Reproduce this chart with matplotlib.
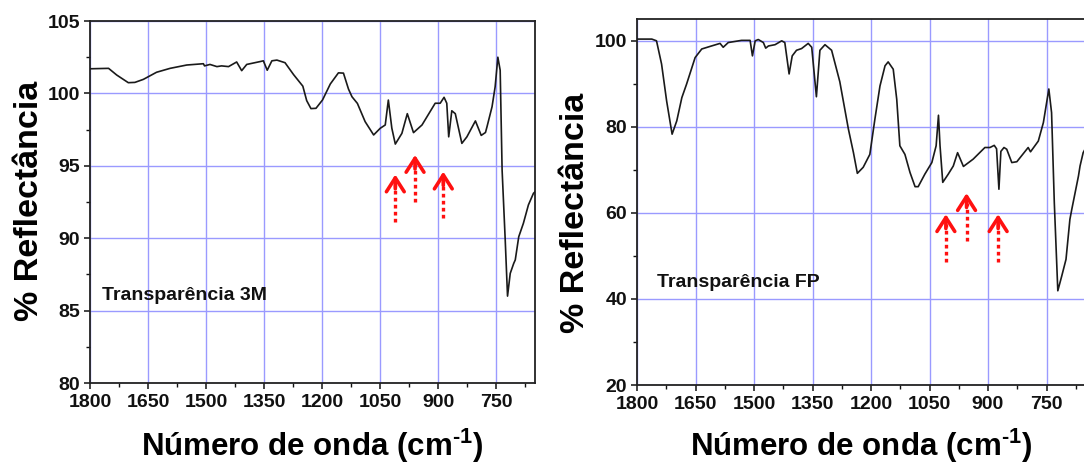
import matplotlib
matplotlib.use("Agg")
import matplotlib.pyplot as plt
from matplotlib.ticker import MultipleLocator

plt.rcParams["font.family"] = ["Liberation Sans", "DejaVu Sans"]
plt.rcParams["font.weight"] = "bold"
plt.rcParams["mathtext.fontset"] = "custom"
plt.rcParams["mathtext.rm"] = "Liberation Sans:bold"
plt.rcParams["mathtext.bf"] = "Liberation Sans:bold"
plt.rcParams["mathtext.it"] = "Liberation Sans:bold"

# Reflectance spectrum, 3M transparency sheet (wavenumber in cm^-1, % reflectance)
wn_3m = [1800, 1752, 1731, 1718, 1701, 1684, 1662, 1628, 1593, 1550, 1507, 1504,
         1490, 1472, 1460, 1442, 1421, 1408, 1395, 1360, 1352, 1342, 1330, 1317,
         1296, 1274, 1250, 1240, 1229, 1216, 1199, 1179, 1158, 1145, 1132, 1123,
         1109, 1089, 1067, 1050, 1037, 1029, 1020, 1011, 994, 980, 964, 942, 908,
         895, 885, 878, 873, 865, 856, 839, 826, 804, 789, 778, 774, 761, 753, 746,
         740, 735, 727, 721, 714, 705, 701, 692, 680, 667, 654, 650]
refl_3m = [101.7, 101.73, 101.27, 101.04, 100.74, 100.76, 100.97, 101.46, 101.73,
           101.96, 102.05, 101.9, 102.0, 101.85, 101.9, 101.85, 102.17, 101.57,
           102.0, 102.2, 102.25, 101.6, 102.25, 102.3, 102.12, 101.3, 100.5, 99.5,
           98.95, 98.97, 99.55, 100.65, 101.42, 101.4, 100.3, 99.77, 99.31, 98.05,
           97.13, 97.59, 97.82, 99.54, 97.6, 96.5, 97.24, 98.6, 97.29, 97.82, 99.32,
           99.32, 99.73, 99.32, 97.0, 98.8, 98.6, 96.55, 97.0, 98.1, 97.1, 97.3,
           97.7, 99.08, 100.46, 102.5, 101.6, 94.7, 89.9, 86.0, 87.57, 88.26, 88.5,
           90.1, 91.03, 92.3, 93.1, 93.2]

# Reflectance spectrum, FP transparency sheet
wn_fp = [1800, 1762, 1750, 1737, 1724, 1710, 1698, 1685, 1673, 1651, 1634, 1609,
         1587, 1579, 1566, 1532, 1510, 1504, 1497, 1489, 1476, 1470, 1463, 1446,
         1429, 1421, 1410, 1402, 1391, 1378, 1361, 1352, 1340, 1331, 1318, 1301,
         1280, 1258, 1245, 1235, 1220, 1203, 1190, 1177, 1164, 1156, 1143, 1134,
         1126, 1113, 1100, 1087, 1079, 1062, 1044, 1033, 1027, 1023, 1016, 1002,
         989, 978, 963, 938, 908, 895, 884, 878, 872, 867, 859, 852, 839, 826, 797,
         791, 771, 758, 744, 737, 730, 721, 711, 700, 690, 685, 668, 664, 656, 650]
refl_fp = [100.4, 100.4, 100.0, 94.6, 86.0, 78.3, 81.4, 86.8, 89.9, 96.1, 98.1, 98.8,
           99.4, 98.5, 99.6, 100.1, 100.1, 96.5, 100.0, 100.3, 99.6, 98.3, 98.8, 99.1,
           100.0, 99.6, 92.3, 96.5, 97.8, 98.2, 99.4, 98.5, 87.0, 97.8, 99.1, 97.8,
           90.5, 79.5, 74.0, 69.2, 70.6, 73.6, 81.8, 89.5, 94.2, 95.1, 93.4, 86.4,
           75.6, 73.6, 69.4, 66.1, 66.1, 69.0, 71.7, 75.6, 82.7, 75.6, 67.1, 69.0,
           70.9, 74.0, 70.8, 72.5, 75.2, 75.2, 75.7, 74.9, 65.5, 74.3, 75.2, 74.8,
           71.7, 71.9, 75.2, 74.2, 76.7, 81.0, 88.8, 83.3, 62.4, 41.9, 45.3, 49.2,
           58.5, 60.9, 68.6, 70.9, 74.0, 75.0]

# Marked bands: (wavenumber, tail value, tip value)
marks_3m = [(1011, 91.1, 94.4), (960, 92.5, 95.75), (887, 91.4, 94.6)]
marks_fp = [(1008, 48.6, 59.7), (955, 53.5, 64.6), (874, 48.6, 59.7)]

labels = ["Transparência 3M", "Transparência FP"]

xlabel = r"Número de onda (cm$^{\text{-1}}$)"
ylabel = "% Reflectância"

W, H = 1084, 463
fig = plt.figure(figsize=(W / 100, H / 100), dpi=100)
ax1 = fig.add_axes([90 / W, 80 / H, 445 / W, 362 / H])
ax2 = fig.add_axes([637 / W, 78 / H, 448.5 / W, 365.7 / H])

grid_color = "#9a9aff"


def style(ax, ylim, ymajor, yminor):
    ax.set_xlim(1800, 650)
    ax.set_ylim(*ylim)
    ax.xaxis.set_major_locator(MultipleLocator(150))
    ax.xaxis.set_minor_locator(MultipleLocator(75))
    ax.yaxis.set_major_locator(MultipleLocator(ymajor))
    ax.yaxis.set_minor_locator(MultipleLocator(yminor))
    ax.grid(True, which="major", color=grid_color, lw=1.0)
    ax.set_axisbelow(True)
    ax.tick_params(which="major", direction="out", length=4, width=1.1,
                   labelsize=14, pad=3, colors="#111111")
    ax.tick_params(which="minor", direction="out", length=3, width=1.0,
                   colors="#111111")
    ax.tick_params(axis="x", which="major", pad=4)
    for lab in ax.get_xticklabels() + ax.get_yticklabels():
        lab.set_fontweight("bold")
    for s in ax.spines.values():
        s.set_linewidth(1.3)
        s.set_color("#222222")


def draw_marks(ax, marks):
    for x, y0, y1 in marks:
        ax.plot([x, x], [y0, y1 - (y1 - y0) * 0.2], color="#ff1010", lw=2.4,
                linestyle=(0, (1.1, 1.0)), solid_capstyle="butt", zorder=4)
        ax.annotate("", xy=(x, y1), xytext=(x, y1 - (y1 - y0) * 0.3),
                    arrowprops=dict(arrowstyle="->,head_length=0.5,head_width=0.32",
                                    color="#ff1010", lw=2.6, mutation_scale=20,
                                    shrinkA=0, shrinkB=0, linestyle="-"),
                    zorder=4)


ax1.plot(wn_3m, refl_3m, color="#1a1a1a", lw=1.2, zorder=3)
style(ax1, (80, 105), 5, 2.5)
draw_marks(ax1, marks_3m)
ax1.text(0.026, 0.243, labels[0], transform=ax1.transAxes, fontsize=14,
         fontweight="bold", va="center", ha="left", color="#111111")
ax1.set_xlabel(xlabel, fontsize=22.5, fontweight="bold")
ax1.set_ylabel(ylabel, fontsize=24.5, fontweight="bold")
ax1.xaxis.set_label_coords(0.5, -0.121)
ax1.yaxis.set_label_coords(-0.101, 0.503)

ax2.plot(wn_fp, refl_fp, color="#1a1a1a", lw=1.2, zorder=3)
style(ax2, (20, 105), 20, 10)
draw_marks(ax2, marks_fp)
ax2.text(0.044, 0.279, labels[1], transform=ax2.transAxes, fontsize=14,
         fontweight="bold", va="center", ha="left", color="#111111")
ax2.set_xlabel(xlabel, fontsize=22.5, fontweight="bold")
ax2.set_ylabel(ylabel, fontsize=24.5, fontweight="bold")
ax2.xaxis.set_label_coords(0.5, -0.113)
ax2.yaxis.set_label_coords(-0.103, 0.47)

fig.savefig("out.png", dpi=100)
